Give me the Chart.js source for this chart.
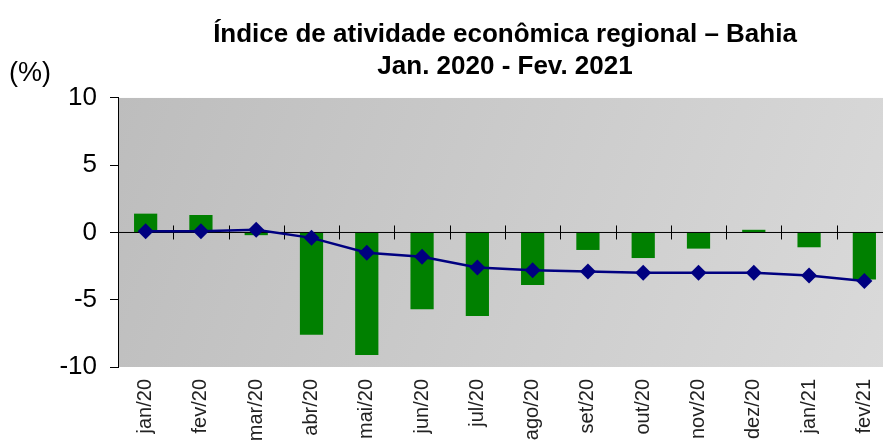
<!DOCTYPE html>
<html>
<head>
<meta charset="utf-8">
<script src="https://cdn.jsdelivr.net/npm/chart.js@4/dist/chart.umd.min.js"></script>
<style>
  html, body { margin: 0; padding: 0; background: #fff; overflow: hidden; }
  #wrap { width: 900px; height: 445px; }
</style>
</head>
<body>
<div id="wrap"><canvas id="chart" width="900" height="445"></canvas></div>
<script>
let months = ["jan/20", "fev/20", "mar/20", "abr/20", "mai/20", "jun/20", "jul/20",
  "ago/20", "set/20", "out/20", "nov/20", "dez/20", "jan/21", "fev/21"];
let monthly = [1.4, 1.3, -0.2, -7.6, -9.1, -5.7, -6.2, -3.9, -1.3, -1.9, -1.2, 0.2, -1.1, -3.5];
let accum = [0.1, 0.1, 0.2, -0.4, -1.5, -1.8, -2.6, -2.8, -2.9, -3.0, -3.0, -3.0, -3.2, -3.6];
let titleLines = ["Índice de atividade econômica regional – Bahia", "Jan. 2020 - Fev. 2021"];
let unitLabel = "(%)";

// gray gradient behind the plot
let plotBg = {
  id: "plotBg",
  beforeDraw(c) {
    let a = c.chartArea, ctx = c.ctx;
    let g = ctx.createLinearGradient(a.left, a.top, a.right, a.bottom);
    g.addColorStop(0, "#bdbdbd");
    g.addColorStop(1, "#dadada");
    ctx.save();
    ctx.fillStyle = g;
    ctx.fillRect(a.left, a.top, a.right - a.left, a.bottom - a.top);
    ctx.restore();
  },
  afterDraw(c) {
    let ctx = c.ctx;
    ctx.save();
    ctx.font = "27px 'Liberation Sans', Arial, sans-serif";
    ctx.fillStyle = "#000";
    ctx.textBaseline = "alphabetic";
    ctx.fillText(unitLabel, 9, 81);
    ctx.restore();
  }
};

// zero line with category ticks, drawn between bars and line
let zeroAxis = {
  id: "zeroAxis",
  afterDatasetDraw(c, args) {
    if (args.index !== 0) return;
    let x = c.scales.x, y0 = c.scales.y.getPixelForValue(0), ctx = c.ctx;
    ctx.save();
    ctx.strokeStyle = "#000";
    ctx.lineWidth = 1;
    ctx.beginPath();
    ctx.moveTo(c.chartArea.left, y0);
    ctx.lineTo(c.chartArea.right, y0);
    for (let i = 0; i < months.length - 1; i++) {
      let bx = Math.round((x.getPixelForValue(i) + x.getPixelForValue(i + 1)) / 2) + 0.5;
      ctx.moveTo(bx, y0 - 7);
      ctx.lineTo(bx, y0 + 7);
    }
    ctx.stroke();
    ctx.restore();
  }
};

new Chart(document.getElementById("chart"), {
  data: {
    labels: months,
    datasets: [
      {
        type: "bar",
        data: monthly,
        backgroundColor: "#008000",
        barPercentage: 0.42,
        categoryPercentage: 1,
        order: 1
      },
      {
        type: "line",
        data: accum,
        borderColor: "#000080",
        borderWidth: 2.5,
        backgroundColor: "#000080",
        pointStyle: "rectRot",
        pointRadius: 8,
        pointBorderWidth: 0,
        tension: 0,
        order: 0
      }
    ]
  },
  options: {
    responsive: false,
    animation: false,
    devicePixelRatio: 1,
    layout: { padding: { left: 0, right: 6, top: 0, bottom: 0 } },
    plugins: {
      legend: { display: false },
      tooltip: { enabled: false },
      title: {
        display: true,
        text: titleLines,
        fullSize: false,
        color: "#000",
        font: { family: "'Liberation Sans Narrow', 'Liberation Sans', Arial, sans-serif", size: 26, weight: "bold", lineHeight: 1.23 },
        padding: { top: 19, bottom: 15 }
      }
    },
    scales: {
      x: {
        grid: { display: false },
        border: { display: false },
        ticks: {
          minRotation: 90,
          maxRotation: 90,
          color: "#222",
          padding: 4,
          font: { family: "'Liberation Sans', Arial, sans-serif", size: 20 }
        },
        afterFit(s) { s.height = 78; }
      },
      y: {
        min: -10,
        max: 10,
        grid: { drawOnChartArea: false, color: "#000", tickLength: 8 },
        border: { color: "#000" },
        ticks: {
          stepSize: 5,
          color: "#000",
          padding: 13,
          font: { family: "'Liberation Sans', Arial, sans-serif", size: 26 }
        },
        afterFit(s) { s.width = 118; }
      }
    }
  },
  plugins: [plotBg, zeroAxis]
});
</script>
</body>
</html>
